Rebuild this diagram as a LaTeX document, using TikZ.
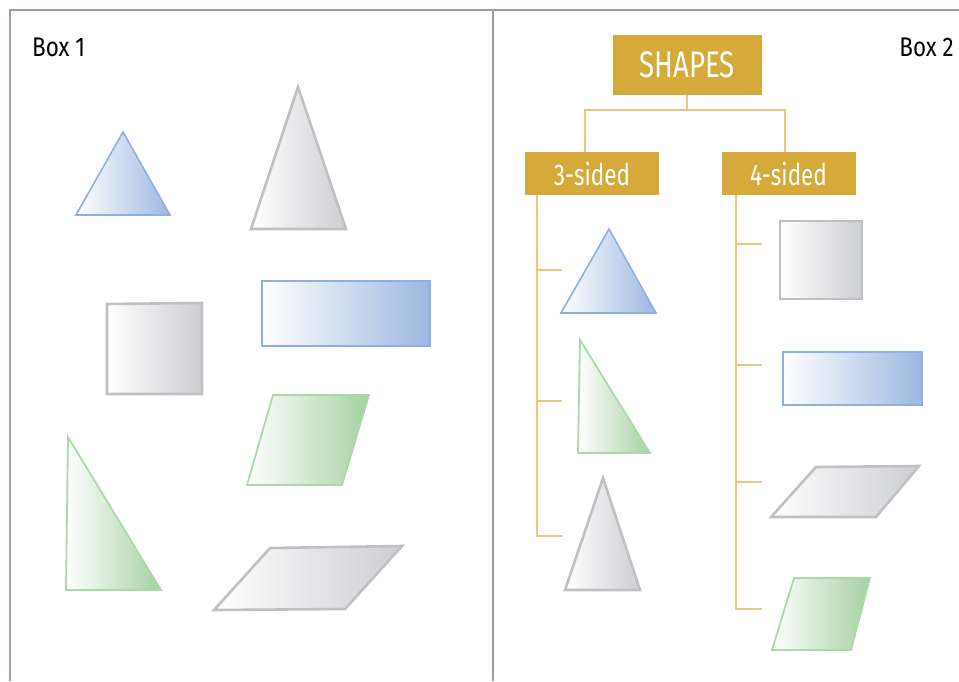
\documentclass[tikz,border=0pt]{standalone}
\usepackage{fontspec}
\setmainfont{Fira Sans}
\newfontfamily\condfont[FakeStretch=0.75]{Fira Sans}
\newfontfamily\labelfont[FakeStretch=0.83]{Fira Sans}
\usepackage{xcolor}
\usetikzlibrary{positioning,calc}

\definecolor{framegray}{HTML}{9C9CAC}
\definecolor{gold}{HTML}{D6AA3A}
\definecolor{lightgold}{HTML}{EBC77E}
\definecolor{blueend}{HTML}{9DB7E0}
\definecolor{blueline}{HTML}{8FAFE0}
\definecolor{grayend}{HTML}{CDCED2}
\definecolor{grayline}{HTML}{C0C0C2}
\definecolor{greenend}{HTML}{A6D0A2}
\definecolor{greenline}{HTML}{A9DAA7}

\tikzset{
  bluefill/.style={left color=white, right color=blueend, draw=blueline, line width=1.6pt, line join=miter},
  grayfill/.style={left color=white, right color=grayend, draw=grayline, line width=2.6pt, line join=miter},
  greenfill/.style={left color=white, right color=greenend, draw=greenline, line width=1.8pt, line join=miter},
  headbox/.style={fill=gold, text=white, inner sep=0pt, font=\condfont\fontsize{37}{39}\selectfont},
  subbox/.style={fill=gold, text=white, inner sep=0pt, minimum width=134pt, minimum height=43pt, font=\condfont\fontsize{30}{32}\selectfont},
  branch/.style={draw=lightgold, line width=1.6pt},
  boxlabel/.style={font=\labelfont\fontsize{27}{29}\selectfont, inner sep=0pt}
}

\begin{document}
\begin{tikzpicture}[x=1pt, y=-1pt]
    \useasboundingbox (0,0) rectangle (959,681);

    % Frame
    \draw[framegray, line width=1.5pt] (10,681) -- (10,10) -- (959,10);
    \draw[framegray, line width=1.5pt] (493,10) -- (493,681);
    \node[boxlabel, anchor=west] (box1) at (32,47) {Box 1};
    \node[boxlabel, anchor=east] (box2) at (954,47) {Box 2};

    % Box 1 shapes
    \path[bluefill] (123,132) -- (170,215) -- (76,215) -- cycle;
    \path[grayfill] (298,87) -- (346,229) -- (251,229) -- cycle;
    \path[grayfill] (107,304) -- (202,303) -- (202,394) -- (107,394) -- cycle;
    \path[bluefill] (262,281) rectangle (430,346);
    \path[greenfill] (273,395) -- (369,395) -- (342,485) -- (247,485) -- cycle;
    \path[greenfill] (68,437) -- (161,590) -- (66,590) -- cycle;
    \path[grayfill] (270,548) -- (402,546) -- (345,609) -- (214,610) -- cycle;

    % Box 2 tree
    \node[headbox, minimum width=149pt, minimum height=60pt] (shapes) at (687,65) {SHAPES};
    \node[subbox] (three) at (592,173.5) {3-sided};
    \node[subbox] (four) at (788.5,173.5) {4-sided};

    \draw[branch] (shapes.south) -- ++(0,15) -| ([xshift=-7pt]three.north);
    \draw[branch] (shapes.south) -- ++(0,15) -| ([xshift=-3.5pt]four.north);

    \coordinate (threeend) at (562,536);
    \coordinate (fourend) at (762,609);
    \draw[branch] ([xshift=12pt]three.south west) |- (threeend);
    \draw[branch] ([xshift=14.5pt]four.south west) |- (fourend);
    \foreach \y in {270,401}
        \draw[branch] (537,\y) -- ++(25,0);
    \foreach \y in {244,365,482}
        \draw[branch] (736,\y) -- ++(26,0);

    % 3-sided shapes
    \path[bluefill] (609,229) -- (656,313) -- (561,313) -- cycle;
    \path[greenfill] (580,340) -- (650,453) -- (578,453) -- cycle;
    \path[grayfill] (603,478) -- (640,590) -- (565,590) -- cycle;

    % 4-sided shapes
    \path[grayfill] (780,221) rectangle (862,299);
    \path[bluefill] (783,352) rectangle (922,405);
    \path[grayfill] (816,467) -- (919,466) -- (876,517) -- (771,517) -- cycle;
    \path[greenfill] (794,578) -- (870,578) -- (851,650) -- (772,650) -- cycle;
\end{tikzpicture}
\end{document}
